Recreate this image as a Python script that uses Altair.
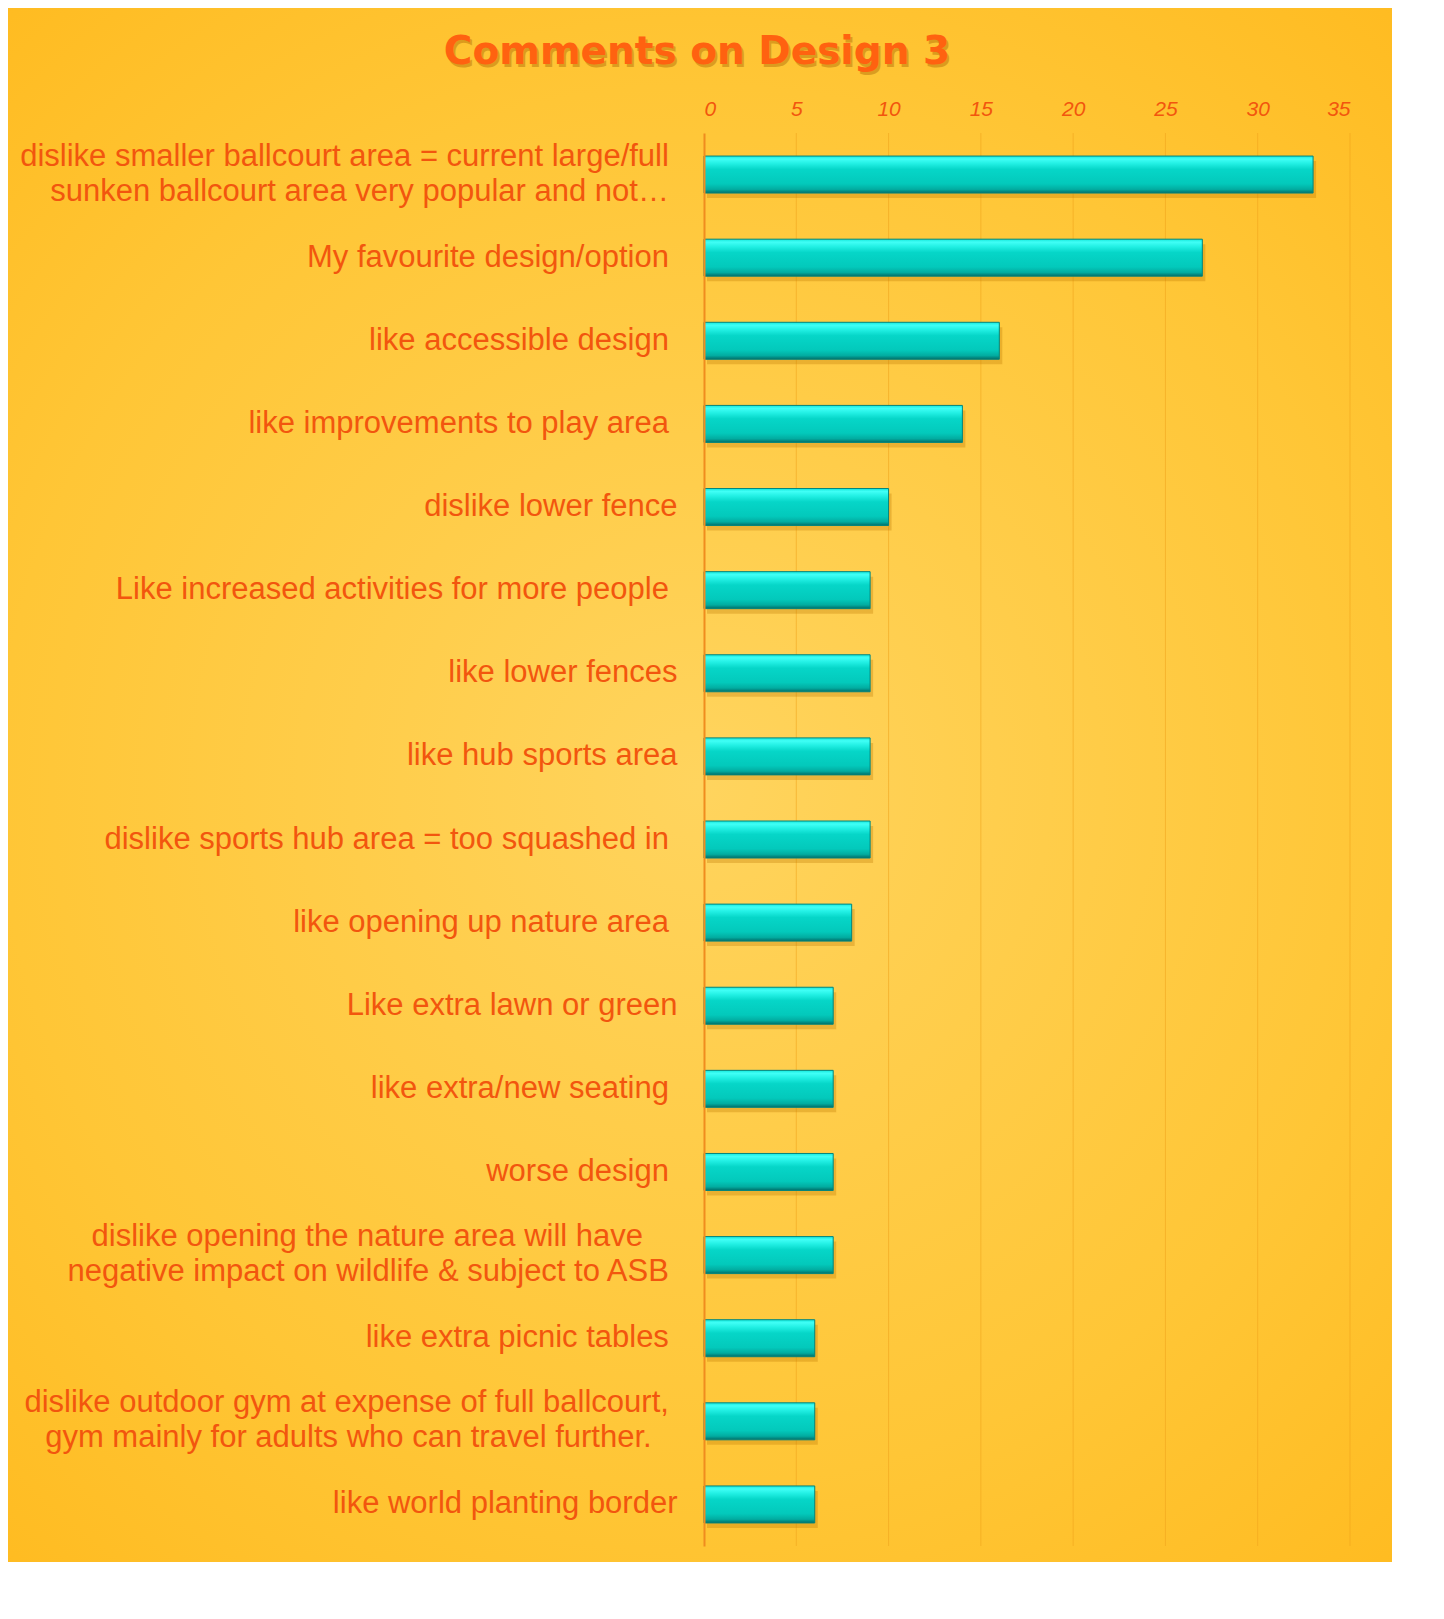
import altair as alt
import pandas as pd

NB = "\u00a0"
ZW = "\u200b"  # keeps the trailing no-break spaces from being trimmed


def pad(n):
    return NB * n + ZW


categories = [
    "dislike smaller ballcourt area = current large/full" + pad(1) + "|sunken ballcourt area very popular and not…" + pad(1),
    "My favourite design/option" + pad(1),
    "like accessible design" + pad(1),
    "like improvements to play area" + pad(1),
    "dislike lower fence",
    "Like increased activities for more people" + pad(1),
    "like lower fences",
    "like hub sports area",
    "dislike sports hub area = too squashed in" + pad(1),
    "like opening up nature area" + pad(1),
    "Like extra lawn or green",
    "like extra/new seating" + pad(1),
    "worse design" + pad(1),
    "dislike opening the nature area will have" + pad(4) + "|negative impact on wildlife & subject to ASB" + pad(1),
    "like extra picnic tables" + pad(1),
    "dislike outdoor gym at expense of full ballcourt," + pad(1) + "|gym mainly for adults who can travel further." + pad(3),
    "like world planting border",
]
counts = [33, 27, 16, 14, 10, 9, 9, 9, 9, 8, 7, 7, 7, 7, 6, 6, 6]
tick_values = [0, 5, 10, 15, 20, 25, 30, 35]
title_text = ["Comments on Design 3"]

W, H = 646, 1413
PAD = {"left": 696, "top": 125, "right": 42, "bottom": 16}

df = pd.DataFrame({"label": categories, "count": counts})
grid_df = pd.DataFrame({"tick": tick_values[1:]})
one = pd.DataFrame({"a": [0]})
title_df = pd.DataFrame({"t": title_text})

FONT = "Liberation Sans"
LABEL_COLOR = "#F2560E"

x_scale = alt.Scale(domain=[0, 35], nice=False)
y_scale = alt.Scale(paddingInner=0, paddingOuter=0)

bg = alt.Chart(one).mark_rect(
    fill={
        "gradient": "radial",
        "x1": 0.5, "y1": 0.5, "r1": 0,
        "x2": 0.5, "y2": 0.5, "r2": 0.75,
        "stops": [
            {"offset": 0, "color": "#FFD45E"},
            {"offset": 0.6, "color": "#FFC636"},
            {"offset": 1, "color": "#FFB81A"},
        ],
    }
).encode(
    x=alt.value(-PAD["left"]), x2=alt.value(W + PAD["right"]),
    y=alt.value(-PAD["top"]), y2=alt.value(H + PAD["bottom"]),
)

grid = alt.Chart(grid_df).mark_rule(color="#EFA21C", strokeWidth=1, opacity=0.55).encode(
    x=alt.X("tick:Q", scale=x_scale)
)

y_enc = alt.Y(
    "label:N",
    sort=categories,
    scale=y_scale,
    axis=alt.Axis(
        title=None,
        labelExpr="split(datum.label, '|')",
        labelFont=FONT,
        labelFontSize=31,
        labelColor=LABEL_COLOR,
        labelPadding=27,
        labelLimit=800,
        labelLineHeight=35,
        labelBaseline={
            "condition": {"test": "indexof(datum.value, '|') >= 0", "value": "line-bottom"},
            "value": "middle",
        },
        ticks=False,
        domain=True,
        domainColor="#F08C1E",
        domainWidth=2,
        grid=False,
        zindex=1,
    ),
)

x_enc = alt.X(
    "count:Q",
    scale=x_scale,
    axis=alt.Axis(
        orient="top",
        values=tick_values,
        title=None,
        labelFont=FONT,
        labelFontSize=21,
        labelFontStyle="italic",
        labelColor=LABEL_COLOR,
        labelPadding=14,
        ticks=False,
        domain=False,
        grid=False,
        zindex=1,
    ),
)

shadow = alt.Chart(df).mark_bar(size=37, color="#B87400", opacity=0.3, yOffset=5, xOffset=3).encode(
    x=x_enc, y=y_enc
)

bars = alt.Chart(df).mark_bar(
    size=37,
    stroke="#04857C",
    strokeWidth=1,
    fill={
        "gradient": "linear",
        "x1": 0, "y1": 0, "x2": 0, "y2": 1,
        "stops": [
            {"offset": 0, "color": "#14E8DC"},
            {"offset": 0.08, "color": "#40FFF6"},
            {"offset": 0.2, "color": "#22F0E4"},
            {"offset": 0.36, "color": "#06D6C8"},
            {"offset": 0.75, "color": "#03C9BB"},
            {"offset": 0.9, "color": "#02ACA0"},
            {"offset": 1, "color": "#016E68"},
        ],
    },
).encode(x=x_enc, y=y_enc)

TITLE_FONT = "DejaVu Sans"

title_shadow = alt.Chart(title_df).mark_text(
    font=TITLE_FONT, fontSize=39, fontWeight="bold", color="#A86000", opacity=0.4,
    align="center", baseline="middle", dx=2, dy=3,
).encode(text="t:N", x=alt.value(-7), y=alt.value(-81))

title = alt.Chart(title_df).mark_text(
    font=TITLE_FONT, fontSize=39, fontWeight="bold", color="#FF6210",
    align="center", baseline="middle",
).encode(text="t:N", x=alt.value(-7), y=alt.value(-81))

chart = alt.layer(bg, grid, shadow, bars, title_shadow, title).properties(
    width=W,
    height=H,
    padding=PAD,
    autosize=alt.AutoSizeParams(type="none"),
    background="white",
).configure_view(stroke=None)

chart.save("out.html", embed_options={"renderer": "svg", "actions": False})
